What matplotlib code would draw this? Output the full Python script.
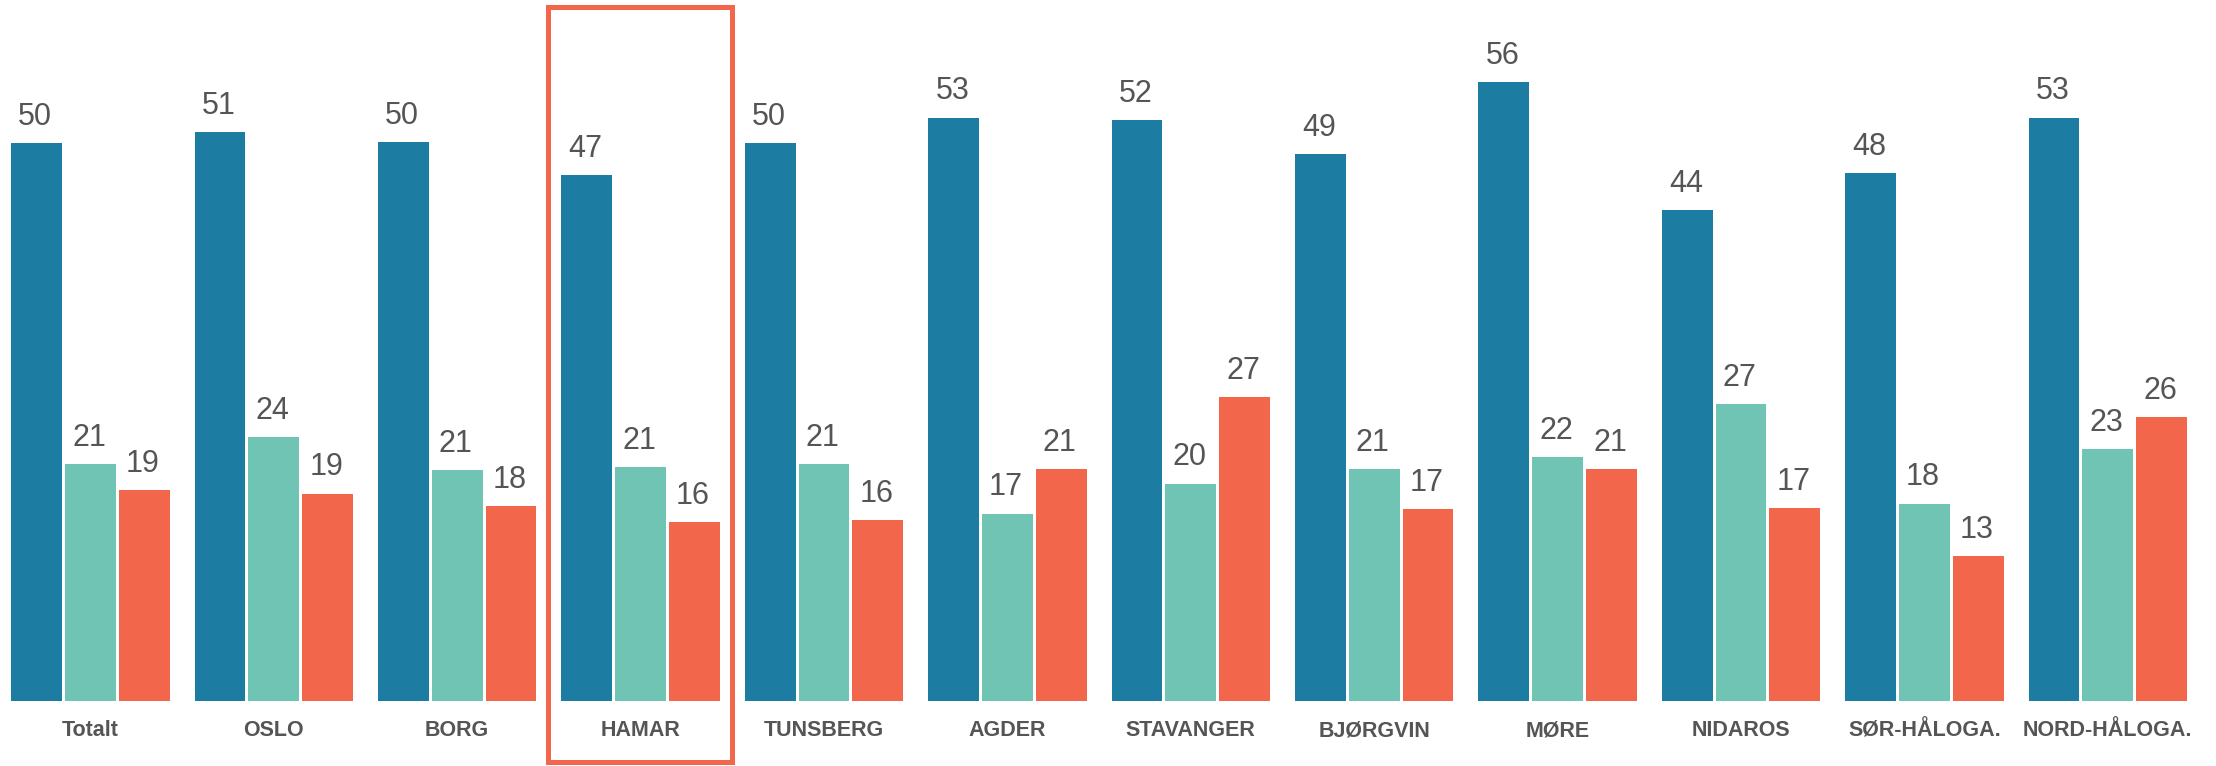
import numpy as np
import matplotlib
matplotlib.use("Agg")
import matplotlib.pyplot as plt
from matplotlib.patches import Rectangle
from matplotlib.transforms import blended_transform_factory

# data (percent)
categories = ["Totalt", "OSLO", "BORG", "HAMAR", "TUNSBERG", "AGDER", "STAVANGER",
              "BJØRGVIN", "MØRE", "NIDAROS", "SØR-HÅLOGA.", "NORD-HÅLOGA."]
series_blue = [50.3, 51.3, 50.4, 47.4, 50.3, 52.6, 52.4, 49.3, 55.8, 44.3, 47.6, 52.6]
series_teal = [21.4, 23.8, 20.8, 21.1, 21.4, 16.9, 19.6, 20.9, 22.0, 26.8, 17.8, 22.7]
series_red = [19.0, 18.7, 17.6, 16.1, 16.3, 20.9, 27.4, 17.3, 20.9, 17.4, 13.1, 25.6]
highlight = "HAMAR"

colors = ["#1C7CA2", "#70C4B3", "#F2674B"]
text_color = "#555555"

plt.rcParams['font.family'] = ['Liberation Sans', 'DejaVu Sans']

fig = plt.figure(figsize=(22.16, 7.66), dpi=100)
ax = fig.add_axes([0, 65 / 766, 1, 701 / 766])

x = np.arange(len(categories))
step = 0.293
width = 0.277
for i, (vals, c) in enumerate(zip([series_blue, series_teal, series_red], colors)):
    bars = ax.bar(x + (i - 1) * step, vals, width=width, color=c)
    for b, v in zip(bars, vals):
        ax.annotate("{:.0f}".format(v), (b.get_x() + b.get_width() / 2, v),
                    xytext=(-1, 8), textcoords="offset points",
                    ha="center", va="bottom", fontsize=22, color=text_color)

ax.set_xlim(-0.493, 11.59)
ax.set_ylim(0, 63.2)
ax.set_xticks(x)
ax.set_xticklabels(categories, fontsize=15.5, fontweight="bold", color=text_color)
ax.tick_params(axis="x", length=0, pad=14)
ax.set_yticks([])
for s in ax.spines.values():
    s.set_visible(False)

# highlight box round the chosen region
k = categories.index(highlight)
trans = blended_transform_factory(ax.transData, fig.transFigure)
box = Rectangle((k - 0.505, 4 / 766), 1.005, 755 / 766, transform=trans,
                fill=False, edgecolor="#F2674B", linewidth=3.6, clip_on=False)
fig.add_artist(box)

fig.savefig("out.png", dpi=100)
